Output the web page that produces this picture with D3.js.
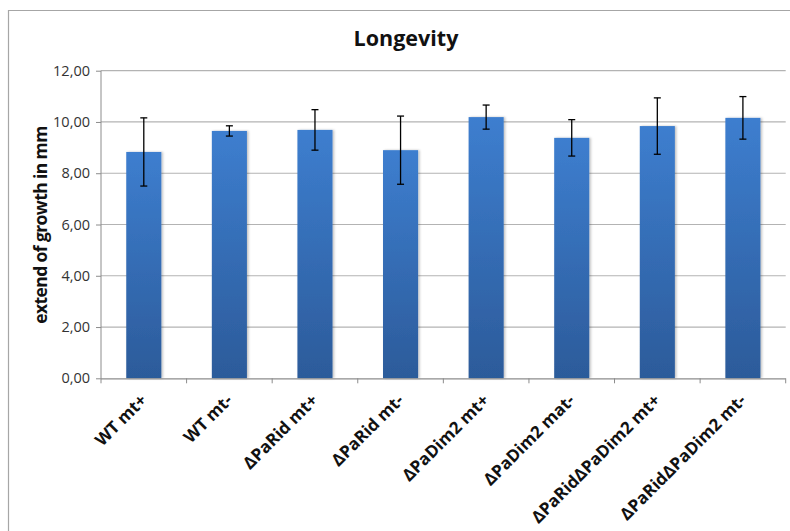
<!DOCTYPE html>
<html><head><meta charset="utf-8">
<script src="https://cdn.jsdelivr.net/npm/d3@7"></script>
<style>body{margin:0;background:#fff}svg{display:block}</style>
</head><body>
<script>
const categories = ["WT mt+","WT mt-","ΔPaRid mt+","ΔPaRid mt-","ΔPaDim2 mt+","ΔPaDim2 mat-","ΔPaRidΔPaDim2 mt+","ΔPaRidΔPaDim2 mt-"];
const values = [8.83, 9.65, 9.69, 8.90, 10.19, 9.38, 9.84, 10.16];
const errors = [1.33, 0.20, 0.79, 1.33, 0.47, 0.71, 1.10, 0.83];
const yTicks = [0,2,4,6,8,10,12];
const title = "Longevity";
const yTitle = "extend of growth in mm";

const W=790,H=531;
const m={left:101,right:4,top:70.7,bottom:152.7};
const svg=d3.select("body").append("svg").attr("width",W).attr("height",H);
const font="'Open Sans', Carlito, Calibri, sans-serif";

const defs=svg.append("defs");
const g=defs.append("linearGradient").attr("id","bg").attr("x1",0).attr("y1",0).attr("x2",0).attr("y2",1);
g.append("stop").attr("offset","0%").attr("stop-color","#3d7ecf");
g.append("stop").attr("offset","100%").attr("stop-color","#2c5b9a");
const f=defs.append("filter").attr("id","sh").attr("x","-20%").attr("y","-5%").attr("width","140%").attr("height","110%");
f.append("feDropShadow").attr("dx",1.5).attr("dy",0).attr("stdDeviation",1.2).attr("flood-color","#000").attr("flood-opacity",0.25);

// outer frame (top & left)
svg.append("path").attr("d",`M8.5,${H} L8.5,10.5 L${W},10.5`).attr("fill","none").attr("stroke","#a6a6a6").attr("stroke-width",1.2);

const x=d3.scaleBand().domain(categories).range([m.left,785.7]).paddingInner(0.59).paddingOuter(0.295);
const y=d3.scaleLinear().domain([0,12]).range([378.3,70.7]);

// gridlines
svg.append("g").selectAll("line").data(yTicks.slice(1)).join("line")
  .attr("x1",m.left).attr("x2",785.7).attr("y1",d=>y(d)).attr("y2",d=>y(d))
  .attr("stroke","#b3b3b3").attr("stroke-width",1.2);

// y axis
const ya=svg.append("g").attr("transform",`translate(${m.left},0)`)
  .call(d3.axisLeft(y).tickValues(yTicks).tickSize(5).tickPadding(6).tickFormat(d=>d3.format(".2f")(d).replace(".",",")));
ya.select(".domain").attr("stroke","#8c8c8c").attr("d",`M0,${y(12)}V${y(0)}`);
ya.selectAll(".tick line").attr("stroke","#8c8c8c");
ya.selectAll("text").attr("font-family",font).attr("font-size",14.5).attr("fill","#333");

// bars
svg.append("g").selectAll("rect").data(values).join("rect")
  .attr("x",(d,i)=>x(categories[i])).attr("width",x.bandwidth())
  .attr("y",d=>y(d)).attr("height",d=>y(0)-y(d))
  .attr("fill","url(#bg)").attr("filter","url(#sh)");

// x axis
const bw=x.step();
const xb=categories.map((c,i)=>m.left+i*bw);
xb.push(785.7);
const xa=svg.append("g");
xa.append("line").attr("x1",m.left).attr("x2",785.7).attr("y1",y(0)+0.5).attr("y2",y(0)+0.5).attr("stroke","#8c8c8c").attr("stroke-width",1.2);
xa.selectAll(".tk").data(xb).join("line").attr("class","tk")
  .attr("x1",d=>d).attr("x2",d=>d).attr("y1",y(0)).attr("y2",y(0)+5).attr("stroke","#8c8c8c");
xa.selectAll("text").data(categories).join("text")
  .attr("transform",d=>`translate(${x(d)+x.bandwidth()/2+4},${y(0)+23}) rotate(-45)`)
  .attr("text-anchor","end").attr("font-family",font).attr("font-weight","bold").attr("font-size",17).attr("fill","#111")
  .text(d=>d);

// error bars
const eb=svg.append("g").attr("stroke","#000").attr("stroke-width",1.3);
values.forEach((v,i)=>{
  const cx=x(categories[i])+x.bandwidth()/2;
  eb.append("line").attr("x1",cx).attr("x2",cx).attr("y1",y(v+errors[i])).attr("y2",y(v-errors[i]));
  eb.append("line").attr("x1",cx-3.5).attr("x2",cx+3.5).attr("y1",y(v+errors[i])).attr("y2",y(v+errors[i]));
  eb.append("line").attr("x1",cx-3.5).attr("x2",cx+3.5).attr("y1",y(v-errors[i])).attr("y2",y(v-errors[i]));
});

// titles
svg.append("text").attr("x",406).attr("y",46).attr("text-anchor","middle")
  .attr("font-family",font).attr("font-weight","bold").attr("font-size",21.5).attr("fill","#111").text(title);
svg.append("text").attr("transform",`translate(47,225) rotate(-90)`).attr("text-anchor","middle")
  .attr("font-family",font).attr("font-weight","bold").attr("font-size",17.5).attr("letter-spacing",-0.6).attr("fill","#111").text(yTitle);
</script>
</body></html>
